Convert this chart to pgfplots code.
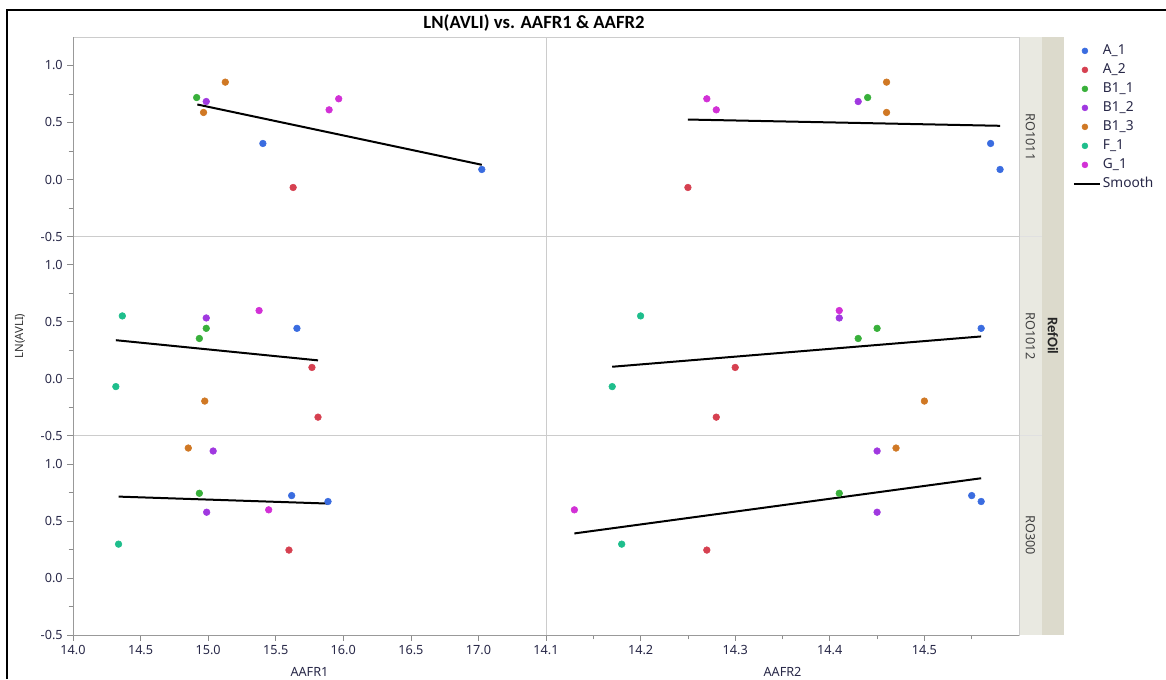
\documentclass[border=0pt]{standalone}
\usepackage{fontspec}
\setmainfont{Noto Sans}
\newfontfamily\titlefont{Carlito}
\usepackage{pgfplots}
\pgfplotsset{compat=1.18}
\definecolor{cA1}{RGB}{58,108,224}
\definecolor{cA2}{RGB}{214,64,80}
\definecolor{cB11}{RGB}{56,176,58}
\definecolor{cB12}{RGB}{160,56,224}
\definecolor{cB13}{RGB}{208,120,36}
\definecolor{cF1}{RGB}{30,190,140}
\definecolor{cG1}{RGB}{210,48,214}
\definecolor{tickc}{RGB}{40,40,72}
\definecolor{stripin}{RGB}{233,233,225}
\definecolor{stripout}{RGB}{220,218,204}
\pgfplotsset{
 panel/.style={scale only axis, width=354.75pt, height=149.625pt, ymin=-0.5, ymax=1.25,
   anchor=south west,
   axis line style={draw=black!20, line width=0.6pt},
   tick style={draw=black!45, line width=0.5pt}, tick align=outside,
   major tick length=4.2pt, minor tick length=3.2pt,
   ticklabel style={font=\fontsize{9.5}{11}\selectfont, text=tickc},
   xtick=\empty, ytick=\empty},
 leftcol/.style={xmin=14, xmax=17.5, ytick={-0.5,0,0.5,1}, yticklabels={-0.5,0.0,0.5,1.0},
   minor ytick={-0.25,0.25,0.75}, ytick pos=left},
 rightcol/.style={xmin=14.1, xmax=14.6},
 dot/.style={only marks, mark=*, mark size=2.5pt, forget plot},
 sm/.style={black, line width=1.5pt, no marks, forget plot},
 dotleg/.style={legend image code/.code={\draw[##1, draw=none] plot[only marks] coordinates {(8.25pt,0pt)}; \path[draw=none] (0pt,0pt) -- (19.5pt,0pt);}},
 lineleg/.style={legend image code/.code={\draw[##1] (0pt,0pt) -- (19.5pt,0pt);}},
}
\begin{document}
\begin{tikzpicture}[x=0.75pt,y=0.75pt]
\useasboundingbox (0,0) rectangle (1166,679);
\fill[white] (0,0) rectangle (1166,679);
\draw[black, line width=1.5pt] (7,0) -- (7,669) -- (1166,669);
% strips
\fill[stripin] (1019,44) rectangle (1042,642);
\fill[stripout] (1042,44) rectangle (1064,642);
\draw[black!12, line width=0.8pt] (1019,243.5) -- (1042,243.5) (1019,442.5) -- (1042,442.5);

% ---------- Row 1: RO1011 ----------
\begin{axis}[panel, leftcol, at={(54.75pt,331.875pt)}]
\addplot[dot, cA1] coordinates {(15.405,0.316) (17.025,0.088)};
\addplot[dot, cA2] coordinates {(15.629,-0.070)};
\addplot[dot, cB11] coordinates {(14.915,0.719)};
\addplot[dot, cB12] coordinates {(14.986,0.684)};
\addplot[dot, cB13] coordinates {(14.966,0.588) (15.127,0.854)};
\addplot[dot, cG1] coordinates {(15.895,0.611) (15.966,0.708)};
\addplot[sm] coordinates {(14.92,0.658) (17.025,0.129)};
\end{axis}
\begin{axis}[panel, rightcol, at={(409.5pt,331.875pt)},
  legend style={at={(1.114,0.978)}, anchor=north west, draw=none, fill=none,
    inner sep=0pt, outer sep=0pt, row sep=0pt, font=\fontsize{10.3}{12}\selectfont,
    nodes={inner xsep=1.5pt, inner ysep=0pt, text height=10pt, text depth=4.25pt, text=tickc}},
  legend cell align=left]
\addlegendimage{dotleg, cA1, mark=*, mark size=2.2pt}
\addlegendentry{A\_1}
\addlegendimage{dotleg, cA2, mark=*, mark size=2.2pt}
\addlegendentry{A\_2}
\addlegendimage{dotleg, cB11, mark=*, mark size=2.2pt}
\addlegendentry{B1\_1}
\addlegendimage{dotleg, cB12, mark=*, mark size=2.2pt}
\addlegendentry{B1\_2}
\addlegendimage{dotleg, cB13, mark=*, mark size=2.2pt}
\addlegendentry{B1\_3}
\addlegendimage{dotleg, cF1, mark=*, mark size=2.2pt}
\addlegendentry{F\_1}
\addlegendimage{dotleg, cG1, mark=*, mark size=2.2pt}
\addlegendentry{G\_1}
\addlegendimage{lineleg, black, line width=1.5pt}
\addlegendentry{Smooth}
\addplot[dot, cA1] coordinates {(14.570,0.316) (14.580,0.088)};
\addplot[dot, cA2] coordinates {(14.250,-0.070)};
\addplot[dot, cB11] coordinates {(14.440,0.719)};
\addplot[dot, cB12] coordinates {(14.430,0.684)};
\addplot[dot, cB13] coordinates {(14.460,0.854) (14.460,0.588)};
\addplot[dot, cG1] coordinates {(14.270,0.708) (14.280,0.611)};
\addplot[sm] coordinates {(14.25,0.526) (14.58,0.471)};
\end{axis}

% ---------- Row 2: RO1012 ----------
\begin{axis}[panel, leftcol, at={(54.75pt,182.625pt)}]
\addplot[dot, cA1] coordinates {(15.657,0.440)};
\addplot[dot, cA2] coordinates {(15.768,0.097) (15.813,-0.339)};
\addplot[dot, cB11] coordinates {(14.986,0.440) (14.935,0.351)};
\addplot[dot, cB12] coordinates {(14.986,0.531)};
\addplot[dot, cB13] coordinates {(14.975,-0.198)};
\addplot[dot, cF1] coordinates {(14.365,0.549) (14.317,-0.071)};
\addplot[dot, cG1] coordinates {(15.377,0.596)};
\addplot[sm] coordinates {(14.317,0.336) (15.813,0.159)};
\end{axis}
\begin{axis}[panel, rightcol, at={(409.5pt,182.625pt)}]
\addplot[dot, cA1] coordinates {(14.560,0.440)};
\addplot[dot, cA2] coordinates {(14.300,0.097) (14.280,-0.339)};
\addplot[dot, cB11] coordinates {(14.450,0.440) (14.430,0.351)};
\addplot[dot, cB12] coordinates {(14.410,0.531)};
\addplot[dot, cB13] coordinates {(14.500,-0.198)};
\addplot[dot, cF1] coordinates {(14.200,0.549) (14.170,-0.071)};
\addplot[dot, cG1] coordinates {(14.410,0.596)};
\addplot[sm] coordinates {(14.17,0.103) (14.56,0.369)};
\end{axis}

% ---------- Row 3: RO300 ----------
\begin{axis}[panel, leftcol, at={(54.75pt,33pt)},
  xtick={14,14.5,15,15.5,16,16.5,17}, xticklabels={14.0,14.5,15.0,15.5,16.0,16.5,17.0}, xtick pos=left]
\addplot[dot, cA1] coordinates {(15.618,0.723) (15.887,0.671)};
\addplot[dot, cA2] coordinates {(15.598,0.245)};
\addplot[dot, cB11] coordinates {(14.935,0.743)};
\addplot[dot, cB12] coordinates {(15.037,1.114) (14.989,0.577)};
\addplot[dot, cB13] coordinates {(14.853,1.140)};
\addplot[dot, cF1] coordinates {(14.337,0.297)};
\addplot[dot, cG1] coordinates {(15.448,0.598)};
\addplot[sm] coordinates {(14.337,0.714) (15.887,0.653)};
\end{axis}
\begin{axis}[panel, rightcol, at={(409.5pt,33pt)},
  xtick={14.1,14.2,14.3,14.4,14.5}, xticklabels={14.1,14.2,14.3,14.4,14.5},
  minor xtick={14.15,14.25,14.35,14.45,14.55}, xtick pos=left]
\addplot[dot, cA1] coordinates {(14.550,0.723) (14.560,0.671)};
\addplot[dot, cA2] coordinates {(14.270,0.245)};
\addplot[dot, cB11] coordinates {(14.410,0.743)};
\addplot[dot, cB12] coordinates {(14.450,1.114) (14.450,0.577)};
\addplot[dot, cB13] coordinates {(14.470,1.140)};
\addplot[dot, cF1] coordinates {(14.180,0.297)};
\addplot[dot, cG1] coordinates {(14.130,0.598)};
\addplot[sm] coordinates {(14.13,0.391) (14.56,0.875)};
\end{axis}

% outer spines
\draw[black!40, line width=0.7pt] (73,44) -- (73,642);
\draw[black!40, line width=0.7pt] (73,44) -- (1019,44);

% texts
\node[anchor=base, font=\titlefont\bfseries\fontsize{14}{16}\selectfont] at (534,650) {LN(AVLI) vs. AAFR1 \& AAFR2};
\node[rotate=90, font=\fontsize{8.5}{10}\selectfont, text=black!80] at (20,343) {LN(AVLI)};
\node[anchor=base, font=\fontsize{9.5}{11}\selectfont, text=tickc] at (309.5,2.5) {AAFR1};
\node[anchor=base, font=\fontsize{9.5}{11}\selectfont, text=tickc] at (782.5,2.5) {AAFR2};
\node[rotate=-90, font=\fontsize{9.5}{11}\selectfont, text=black!75] at (1030.5,542) {RO1011};
\node[rotate=-90, font=\fontsize{9.5}{11}\selectfont, text=black!75] at (1030.5,343) {RO1012};
\node[rotate=-90, font=\fontsize{9.5}{11}\selectfont, text=black!75] at (1030.5,144) {RO300};
\node[rotate=-90, font=\titlefont\bfseries\fontsize{11}{13}\selectfont, text=black!85] at (1053,343) {RefOil};
\end{tikzpicture}
\end{document}
